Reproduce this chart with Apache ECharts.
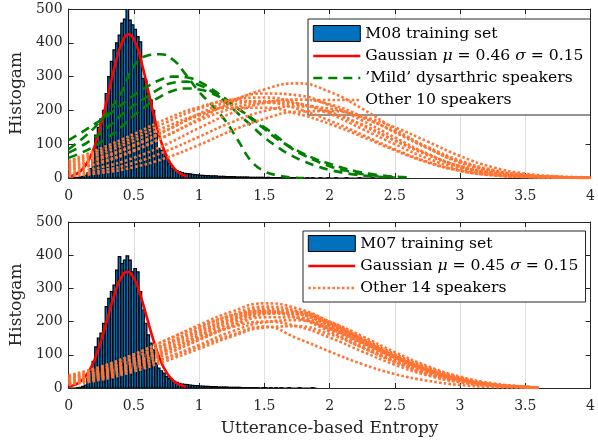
<!DOCTYPE html>
<html><head><meta charset="utf-8">
<script src="https://cdn.jsdelivr.net/npm/echarts@6/dist/echarts.min.js"></script>
<style>html,body{margin:0;padding:0;background:#fff}#c{width:598px;height:442px}</style>
</head><body><div id="c"></div>
<script>
// ---------- data ----------
const binWidth = 0.02;
const histTop = [0,0,1,2,3,5,8,15,28,55, 127,150,175,200,250,300,345,379,400,423,
  458,470,505,467,453,440,418,403,295,290, 250,231,200,132,88,82,78,63,43,29,
  24,21,19,16,14,13,12,11,10,9, 8,8,7,7,6,6,6,5,5,5, 4,4,4,4,3,3,3,3,3,2,
  2,2,2,2,2,1,2,1,1,1, 1,1,1,1,0,1,1,0,1,1, 0,1,0,1,0,0,1,0,0,1,
  0,0,1,0,0,0,1,0,0,0, 0,1,0,0,0,0,1,0,0,0, 0,0,1,0,0];
const histBot = [0,0,0,1,2,5,9,30,50,80, 124,150,165,195,245,270,290,310,355,396,
  375,385,398,385,350,360,350,290,235,195, 160,135,115,75,60,52,45,35,28,24,
  20,17,14,12,11,10,9,8,7,7, 6,6,5,5,4,4,4,3,3,3, 3,2,2,2,2,2,1,1,1,1,
  1,1,1,0,1,1,0,1,0,1, 0,1,0,0,1,0,0,0,1,0, 0,0,0,1,0];

const gaussTopX = [0.01,0.06,0.11,0.16,0.21,0.26,0.31,0.36,0.41,0.46,0.51,0.56,0.61,0.66,0.71,0.76,0.81,0.86,0.91];
const gaussTopY = [4.7,12,28,57.5,106,175,258,340,402,425,402,340,258,175,106,57.5,28,12,4.7];
const gaussBotX = [0.00,0.05,0.10,0.15,0.20,0.25,0.30,0.35,0.40,0.45,0.50,0.55,0.60,0.65,0.70,0.75,0.80,0.85,0.90];
const gaussBotY = [3.9,10,23,47,87,144,212,280,331,350,331,280,212,144,87,47,23,10,3.9];

const greenX = [0,0.1,0.2,0.3,0.4,0.5,0.6,0.7,0.8,0.9,1.0,1.1,1.2,1.3,1.4,1.5,1.6,1.7,1.8,1.9,2.0,2.1,2.2,2.3,2.4,2.5,2.6];
const green1 = [85,115,150,195,250,330,362,366,350,305,255,215,170,110,50,20,8,2,0];
const green2 = [112,135,160,185,215,245,270,290,300,298,285,262,235,205,175,145,115,92,72,55,42,30,20,13,8,4,2];
const green3 = [75,95,120,150,185,215,240,265,282,285,275,255,225,190,155,120,92,68,50,35,24,16,10,6,3,1];
const green4 = [60,75,95,120,150,185,215,240,258,265,262,250,230,205,178,150,122,90,68,50,35,24,15,9,5,2];

const orangeTopX = [0,0.25,0.5,0.75,1,1.25,1.5,1.75,2,2.25,2.5,2.75,3,3.25,3.5,3.75,4];
const orangeTop = [
  [22,45,80,125,175,225,262,280,255,205,145,90,45,20,8,3,1],
  [30,58,95,140,190,230,250,245,215,170,120,72,35,15,5,2,0],
  [45,80,120,165,205,232,238,222,190,145,100,58,28,11,4,1,0],
  [50,88,130,175,210,228,225,205,170,128,85,48,22,8,3,1,0],
  [15,32,60,100,148,192,222,232,218,182,135,88,48,22,8,3,1],
  [25,48,82,125,170,205,222,218,195,158,112,70,35,15,5,2,0],
  [10,22,45,80,122,165,198,212,205,178,138,92,52,24,9,3,1],
  [5,15,32,60,98,140,175,196,198,182,150,108,65,32,13,5,2],
  [35,62,98,142,185,215,228,220,195,155,110,68,33,14,5,2,0],
  [40,72,110,152,188,208,208,190,160,122,82,46,21,8,3,1,0]
];
const orangeBotX = [0,0.25,0.5,0.75,1,1.25,1.5,1.75,2,2.25,2.5,2.75,3,3.25,3.5,3.6];
const orangeBot = [
  [35,62,100,145,190,230,255,240,200,150,100,58,28,11,3,1],
  [30,55,92,135,180,220,245,232,195,146,97,56,27,10,3,1],
  [28,52,88,130,172,212,238,228,192,144,96,55,26,10,3,1],
  [25,48,82,122,165,205,232,224,188,140,93,53,25,9,3,1],
  [20,42,75,115,158,200,228,222,186,138,91,52,24,9,3,1],
  [38,65,102,145,185,218,232,212,170,122,78,42,19,7,2,1],
  [22,44,76,115,155,195,225,222,192,148,102,62,31,12,4,1],
  [15,35,65,102,145,188,222,228,200,156,108,66,34,14,4,1],
  [30,55,90,132,172,208,226,212,176,130,85,48,22,8,2,1],
  [18,38,68,105,145,185,213,212,182,138,92,54,26,10,3,1],
  [12,30,58,92,130,170,198,204,178,136,92,54,26,10,3,1],
  [25,45,75,112,150,183,200,186,152,110,70,38,17,6,2,0],
  [10,25,50,82,118,155,182,186,162,122,80,45,21,8,2,1],
  [15,32,58,90,125,160,185,150,110,72,42,22,9,3,1,0]
];

const nameHistTop = 'M08 training set';
const nameGaussTop = 'Gaussian μ = 0.46 σ = 0.15';
const nameGreen = '\u2019Mild\u2019 dysarthric speakers';
const nameOrangeTop = 'Other 10 speakers';
const nameHistBot = 'M07 training set';
const nameGaussBot = 'Gaussian μ = 0.45 σ = 0.15';
const nameOrangeBot = 'Other 14 speakers';

const xMin = 0, xMax = 4, xStep = 0.5;
const yMin = 0, yMax = 500, yStep = 100;

// ---------- styling ----------
const FONT = 'DejaVu Serif';
const AX = '#262626';
const BLUE = '#0072BD', RED = '#FF0000', GREEN = '#008000', ORANGE = '#FF7433';

function histData(arr){ return arr.map((v,i)=>[i*binWidth,(i+1)*binWidth,v]); }
function pairs(xs, ys){ return ys.map((v,i)=>[xs[i], v]); }

function renderBar(params, api){
  const p0 = api.coord([api.value(0), api.value(2)]);
  const p1 = api.coord([api.value(1), 0]);
  return {type:'rect', shape:{x:p0[0], y:p0[1], width:p1[0]-p0[0], height:p1[1]-p0[1]},
    style:{fill:BLUE, stroke:'#000', lineWidth:1.2}};
}

function xAxes(gi, showName){
  return [
    {type:'value', gridIndex:gi, min:xMin, max:xMax, interval:xStep, position:'bottom',
     axisLine:{show:true, onZero:false, lineStyle:{color:AX, width:1}},
     axisTick:{show:true, inside:true, length:5, lineStyle:{color:AX}},
     axisLabel:{show:true, margin:11, fontFamily:FONT, fontSize:14, color:AX},
     splitLine:{show:true, lineStyle:{color:'#DFDFDF', width:1}},
     name: showName ? 'Utterance-based Entropy' : '', nameLocation:'middle', nameGap:32,
     nameTextStyle:{fontFamily:FONT, fontSize:17, color:AX}},
    {type:'value', gridIndex:gi, min:xMin, max:xMax, interval:xStep, position:'top',
     axisLine:{show:true, onZero:false, lineStyle:{color:AX, width:1}},
     axisTick:{show:true, inside:true, length:5, lineStyle:{color:AX}},
     axisLabel:{show:false}, splitLine:{show:false}}
  ];
}
function yAxes(gi){
  return [
    {type:'value', gridIndex:gi, min:yMin, max:yMax, interval:yStep, position:'left',
     axisLine:{show:true, onZero:false, lineStyle:{color:AX, width:1}},
     axisTick:{show:true, inside:true, length:5, lineStyle:{color:AX}},
     axisLabel:{show:true, margin:6, fontFamily:FONT, fontSize:14, color:AX},
     splitLine:{show:false},
     name:'Histogam', nameLocation:'middle', nameGap:27, nameRotate:90,
     nameTextStyle:{fontFamily:FONT, fontSize:17, color:AX}},
    {type:'value', gridIndex:gi, min:yMin, max:yMax, interval:yStep, position:'right',
     axisLine:{show:true, onZero:false, lineStyle:{color:AX, width:1}},
     axisTick:{show:true, inside:true, length:5, lineStyle:{color:AX}},
     axisLabel:{show:false}, splitLine:{show:false}}
  ];
}

function lineSeries(name, xi, xs, ys, color, type, z){
  return {type:'line', name:name, xAxisIndex:xi, yAxisIndex:xi, data:pairs(xs,ys),
    smooth:true, symbol:'none',
    lineStyle:{color:color, width:2.6, type:type}, itemStyle:{color:color}, z:z, silent:true};
}

const series = [];
// top
series.push({type:'custom', name:nameHistTop, xAxisIndex:0, yAxisIndex:0, renderItem:renderBar,
  encode:{x:[0,1], y:2}, data:histData(histTop), clip:true, z:1, itemStyle:{color:BLUE}});
series.push(lineSeries(nameGaussTop, 0, gaussTopX, gaussTopY, RED, 'solid', 3));
[green1,green2,green3,green4].forEach(g=>series.push(lineSeries(nameGreen, 0, greenX, g, GREEN, [9,6], 4)));
orangeTop.forEach(o=>series.push(lineSeries(nameOrangeTop, 0, orangeTopX, o, ORANGE, [2.6,2.2], 5)));
// bottom
series.push({type:'custom', name:nameHistBot, xAxisIndex:2, yAxisIndex:2, renderItem:renderBar,
  encode:{x:[0,1], y:2}, data:histData(histBot), clip:true, z:1, itemStyle:{color:BLUE}});
series.push(lineSeries(nameGaussBot, 2, gaussBotX, gaussBotY, RED, 'solid', 3));
orangeBot.forEach(o=>series.push(lineSeries(nameOrangeBot, 2, orangeBotX, o, ORANGE, [2.6,2.2], 5)));

function legendCfg(top, left, pad, names){
  return {orient:'vertical', left:left, top:top, padding:pad, itemGap:6, itemWidth:47, itemHeight:16,
    borderColor:'#262626', borderWidth:1, backgroundColor:'#fff', selectedMode:false,
    lineStyle:{width:2.6},
    textStyle:{fontFamily:FONT, fontSize:15.6, color:'#000',
      rich:{i:{fontFamily:FONT, fontSize:15.6, fontStyle:'italic', color:'#000'}}},
    formatter:(n)=>n.replace('μ','{i|μ}').replace('σ','{i|σ}'),
    data:names.map((n,k)=> k===0
      ? {name:n, icon:'rect', itemStyle:{color:BLUE, borderColor:'#000', borderWidth:1}}
      : {name:n, itemStyle:{opacity:0}})
  };
}

const option = {
  animation:false,
  backgroundColor:'#fff',
  grid:[{left:68, right:4, top:9, height:169}, {left:68, right:4, top:222, height:166}],
  xAxis:[...xAxes(0,false), ...xAxes(1,true)],
  yAxis:[...yAxes(0), ...yAxes(1)],
  legend:[legendCfg(19, 308, [6,7,7,4], [nameHistTop,nameGaussTop,nameGreen,nameOrangeTop]),
          legendCfg(231, 303, [4,7,6,4], [nameHistBot,nameGaussBot,nameOrangeBot])],
  series:series
};
const chart = echarts.init(document.getElementById('c'), null, {renderer:'canvas'});
chart.setOption(option);
</script></body></html>
